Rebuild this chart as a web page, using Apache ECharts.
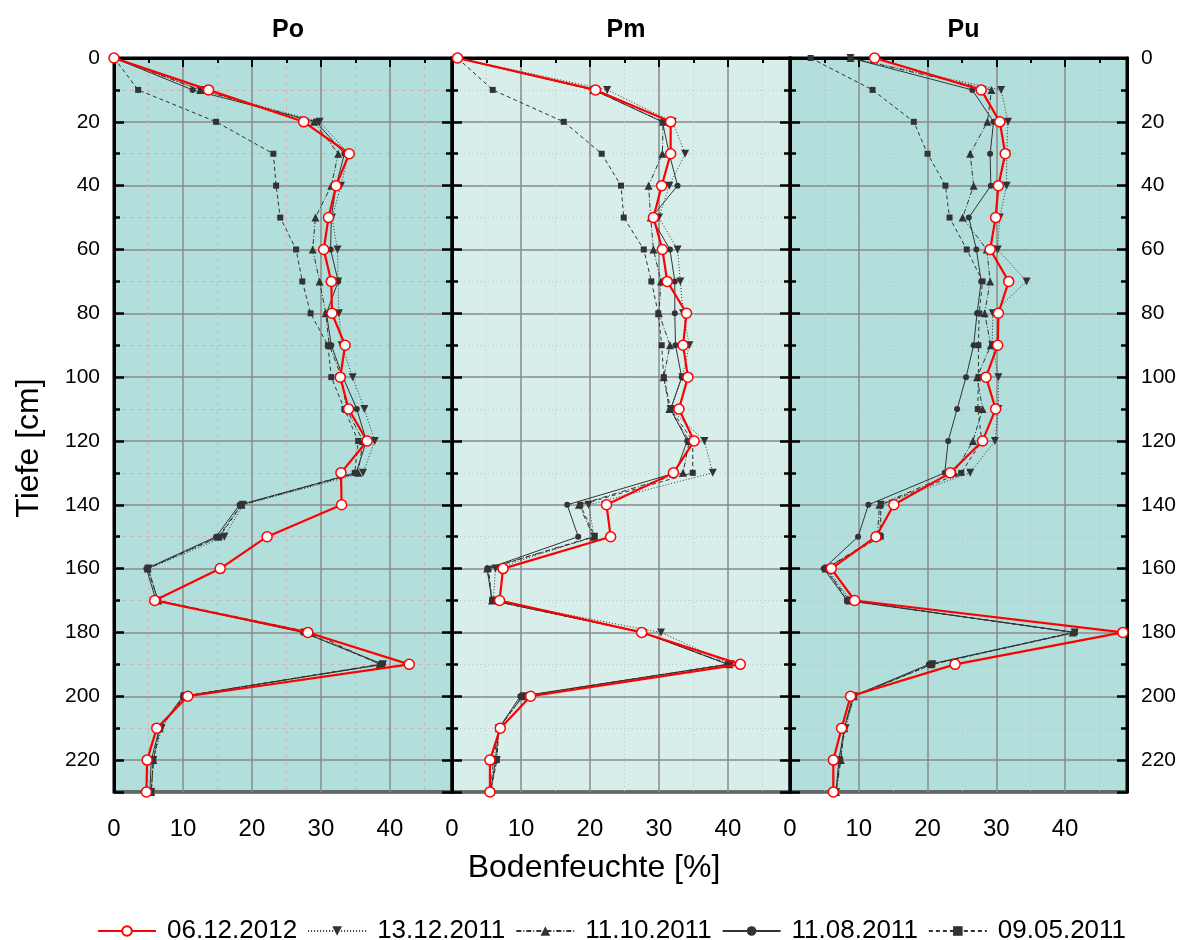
<!DOCTYPE html>
<html>
<head>
<meta charset="utf-8">
<script src="https://cdn.jsdelivr.net/npm/echarts@6/dist/echarts.min.js"></script>
<style>
  html, body { margin: 0; padding: 0; background: #fff; }
  #chart { width: 1188px; height: 940px; }
</style>
</head>
<body>
<div id="chart"></div>
<script>
// Tiefe [cm]
const depth = [0, 10, 20, 30, 40, 50, 60, 70, 80, 90, 100, 110, 120, 130, 140, 150, 160, 170, 180, 190, 200, 210, 220, 230];
const dates = ['06.12.2012', '13.12.2011', '11.10.2011', '11.08.2011', '09.05.2011'];
const panels = ['Po', 'Pm', 'Pu'];
const xTicks = [0, 10, 20, 30, 40];

// Po
const po_06122012 = [0, 13.7, 27.5, 34.1, 32.2, 31.1, 30.4, 31.5, 31.6, 33.5, 32.8, 34.0, 36.7, 32.9, 33.0, 22.2, 15.4, 5.9, 28.1, 42.8, 10.7, 6.2, 4.8, 4.7];
const po_13122011 = [0, 12.5, 29.8, 34.0, 32.9, 31.6, 32.4, 32.5, 32.6, 33.0, 34.6, 36.3, 37.8, 36.1, 18.7, 16.0, 5.0, 6.4, 27.6, 39.0, 10.2, 6.9, 5.7, 5.4];
const po_11102011 = [0, 12.5, 29.0, 32.5, 31.5, 29.2, 28.8, 29.8, 30.7, 31.2, 33.0, 33.7, 36.1, 35.4, 18.5, 15.1, 4.9, 6.4, 28.6, 38.5, 10.2, 6.6, 5.7, 5.4];
const po_11082011 = [0, 11.4, 29.3, 33.4, 32.2, 31.5, 31.4, 32.5, 30.8, 31.5, 33.2, 35.2, 36.6, 35.1, 18.2, 14.8, 4.7, 6.1, 27.4, 39.0, 10.0, 6.6, 5.4, 5.2];
const po_09052011 = [0, 3.5, 14.8, 23.1, 23.5, 24.1, 26.4, 27.3, 28.5, 31.0, 31.5, 33.4, 35.4, 34.9, 18.5, 15.3, 4.9, 6.4, 27.6, 38.7, 10.1, 6.7, 5.7, 5.4];

// Pm
const pm_06122012 = [0.8, 20.8, 31.7, 31.7, 30.4, 29.2, 30.5, 31.2, 34.0, 33.5, 34.2, 32.9, 35.1, 32.1, 22.4, 23.0, 7.4, 6.9, 27.5, 41.8, 11.4, 7.0, 5.5, 5.5];
const pm_13122011 = [0.8, 22.5, 32.0, 33.8, 31.5, 30.0, 32.7, 33.1, 33.5, 34.4, 33.4, 31.7, 36.6, 37.8, 19.8, 20.6, 6.3, 6.0, 30.3, 40.4, 10.4, 6.8, 6.5, 5.6];
const pm_11102011 = [0.8, 20.5, 30.6, 30.5, 28.5, 28.8, 29.2, 30.3, 30.0, 31.6, 30.7, 31.5, 34.4, 33.5, 18.4, 20.5, 5.1, 5.8, 27.6, 40.2, 10.2, 6.8, 6.0, 5.6];
const pm_11082011 = [0.8, 20.5, 30.5, 31.5, 32.7, 28.9, 31.6, 32.3, 32.3, 32.4, 33.3, 31.7, 34.1, 32.4, 16.7, 18.3, 5.1, 5.8, 27.6, 40.0, 9.9, 6.8, 6.3, 5.6];
const pm_09052011 = [0.8, 5.9, 16.2, 21.7, 24.5, 24.9, 27.8, 28.9, 29.9, 30.4, 30.7, 31.7, 34.9, 34.9, 18.6, 20.7, 5.3, 5.8, 27.8, 40.0, 10.2, 6.8, 6.5, 5.6];

// Pu
const pu_06122012 = [12.3, 27.8, 30.5, 31.3, 30.3, 29.9, 29.1, 31.8, 30.3, 30.2, 28.5, 29.9, 28.0, 23.3, 15.1, 12.5, 6.0, 9.4, 48.4, 24.0, 8.8, 7.5, 6.3, 6.3];
const pu_13122011 = [8.8, 30.7, 31.7, 31.5, 31.5, 30.5, 30.2, 34.4, 29.5, 29.4, 30.3, 30.3, 29.8, 26.2, 13.2, 13.0, 5.4, 8.8, 41.4, 20.7, 9.3, 8.1, 7.1, 6.7];
const pu_11102011 = [8.8, 29.3, 28.7, 26.2, 26.7, 25.1, 28.6, 29.1, 28.3, 29.2, 27.2, 28.0, 26.6, 23.9, 13.0, 12.7, 5.2, 8.6, 41.1, 20.5, 9.3, 7.9, 7.4, 6.7];
const pu_11082011 = [8.8, 26.5, 29.6, 29.1, 29.2, 26.0, 27.1, 27.8, 27.2, 26.7, 25.6, 24.3, 23.0, 22.5, 11.4, 9.9, 4.9, 8.3, 41.4, 20.2, 9.1, 7.9, 7.1, 6.7];
const pu_09052011 = [3.0, 12.0, 18.0, 20.0, 22.6, 23.2, 25.7, 28.0, 27.5, 27.4, 27.4, 27.3, 27.9, 24.9, 13.2, 13.2, 5.2, 8.3, 41.4, 20.7, 9.3, 7.9, 7.3, 6.7];

const values = [
  [po_06122012, po_13122011, po_11102011, po_11082011, po_09052011],
  [pm_06122012, pm_13122011, pm_11102011, pm_11082011, pm_09052011],
  [pu_06122012, pu_13122011, pu_11102011, pu_11082011, pu_09052011]
];

const FONT = 'Liberation Sans, Arial, sans-serif';
const gridLeft = [114, 452, 790];
const gridWidth = [338, 338, 337];
const bgColor = ['#b2dfdb', '#d8eeeb', '#b2dfdb'];
const minorColor = ['#d3b3ba', '#b9c9c7', '#a9c4c2'];
const minorType = [[4, 4], [1, 3], [1, 3]];

const dark = '#333';
const styles = [
  { symbol: 'circle', size: 10, rot: 0, line: { color: '#ff0000', width: 2.2, type: 'solid' },
    item: { color: '#fff', borderColor: '#ff0000', borderWidth: 1.5 }, z: 10 },
  { symbol: 'triangle', size: 8, rot: 180, line: { color: dark, width: 1, type: [1, 2] },
    item: { color: dark }, z: 4 },
  { symbol: 'triangle', size: 8, rot: 0, line: { color: dark, width: 1, type: [5, 2, 1, 2] },
    item: { color: dark }, z: 4 },
  { symbol: 'circle', size: 6, rot: 0, line: { color: dark, width: 1, type: 'solid' },
    item: { color: dark }, z: 4 },
  { symbol: 'rect', size: 6, rot: 0, line: { color: dark, width: 1, type: [4, 3] },
    item: { color: dark }, z: 4 }
];

const chart = echarts.init(document.getElementById('chart'), null, { renderer: 'canvas' });

const grids = [], xAxes = [], yAxes = [], series = [], titles = [];

panels.forEach(function (name, p) {
  grids.push({
    left: gridLeft[p], width: gridWidth[p], top: 58, bottom: 148,
    show: true, backgroundColor: bgColor[p], borderColor: '#000', borderWidth: 3
  });
  titles.push({
    text: name, left: gridLeft[p] + gridWidth[p] / 2, top: 13, textAlign: 'center',
    textStyle: { fontFamily: FONT, fontSize: 25, fontWeight: 'bold', color: '#000' }
  });
  xAxes.push({
    gridIndex: p, type: 'value', min: 0, max: 49, interval: 10,
    axisLine: { show: true, lineStyle: { color: '#000', width: 3 } },
    axisTick: { show: true, length: 9, lineStyle: { color: '#000', width: 2 } },
    minorTick: { show: true, splitNumber: 2, length: 5, lineStyle: { color: '#000', width: 2 } },
    axisLabel: {
      showMaxLabel: false, margin: 25, fontFamily: FONT, fontSize: 24, color: '#000',
      formatter: function (v) { return xTicks.indexOf(v) >= 0 ? String(v) : ''; }
    },
    splitLine: { show: true, lineStyle: { color: '#8a8a8a', width: 1.5 } },
    minorSplitLine: { show: true, lineStyle: { color: minorColor[p], width: 1, type: minorType[p] } }
  });
  ['left', 'right'].forEach(function (pos, k) {
    const showLab = (p === 0 && pos === 'left') || (p === 2 && pos === 'right');
    yAxes.push({
      gridIndex: p, type: 'value', position: pos, inverse: true,
      min: 0, max: 230, interval: 20,
      axisLine: { show: true, lineStyle: { color: '#000', width: 3 } },
      axisTick: { show: true, inside: true, length: 10, lineStyle: { color: '#000', width: 2.5 } },
      minorTick: { show: true, splitNumber: 2, length: 6, lineStyle: { color: '#000', width: 2.5 } },
      axisLabel: {
        show: showLab, showMaxLabel: false, margin: 14,
        fontFamily: FONT, fontSize: 21, color: '#000'
      },
      splitLine: { show: k === 0, lineStyle: { color: '#8a8a8a', width: 1.5 } },
      minorSplitLine: { show: k === 0, lineStyle: { color: minorColor[p], width: 1, type: minorType[p] } }
    });
  });
  dates.forEach(function (d, s) {
    const st = styles[s];
    const vals = values[p][s];
    series.push({
      name: d, type: 'line', xAxisIndex: p, yAxisIndex: p * 2,
      data: vals.map(function (v, i) { return [v, depth[i]]; }),
      symbol: st.symbol, symbolSize: st.size, symbolRotate: st.rot, showAllSymbol: true,
      lineStyle: st.line, itemStyle: st.item, z: st.z, clip: true,
      emphasis: { disabled: true }
    });
  });
});

chart.setOption({
  animation: false,
  backgroundColor: '#fff',
  title: titles,
  grid: grids,
  xAxis: xAxes,
  yAxis: yAxes,
  series: series,
  legend: {
    data: dates, top: 913, left: 92,
    itemWidth: 58, itemHeight: 12, itemGap: 10,
    textStyle: { fontFamily: FONT, fontSize: 26, color: '#000', padding: [0, 0, 0, 6] }
  },
  graphic: [
    { type: 'text', left: 'center', top: 852,
      style: { text: 'Bodenfeuchte [%]', font: '32px ' + FONT, fill: '#000' } },
    { type: 'text', x: 13, y: 448, rotation: Math.PI / 2, originX: 0, originY: 0,
      style: { text: 'Tiefe [cm]', font: '32px ' + FONT, fill: '#000', align: 'center', verticalAlign: 'top' } }
  ]
});
</script>
</body>
</html>
